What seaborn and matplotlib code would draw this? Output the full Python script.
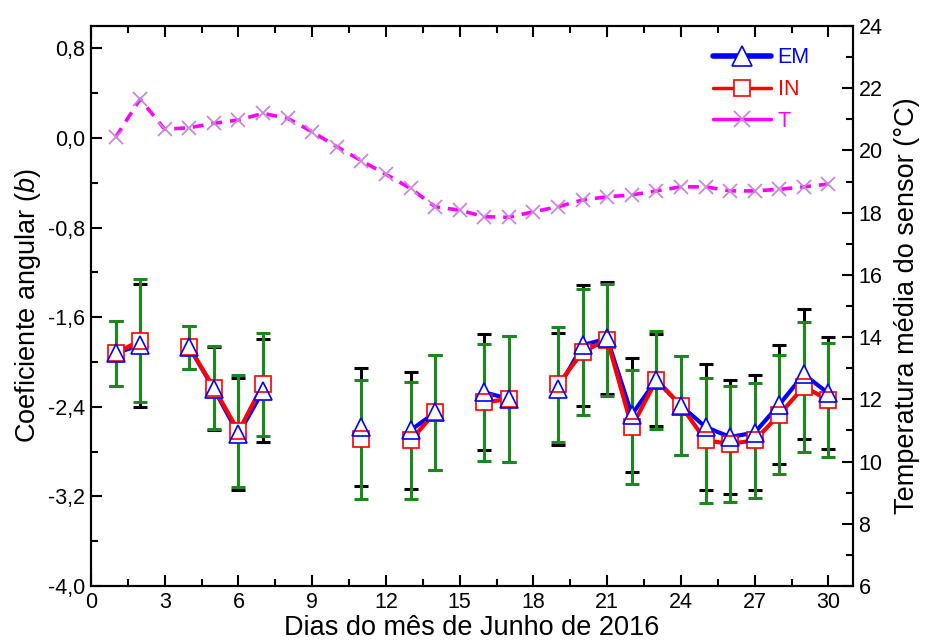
import numpy as np
import pandas as pd
import matplotlib
matplotlib.use("Agg")
import matplotlib.pyplot as plt
import seaborn as sns
from matplotlib.lines import Line2D
from matplotlib.ticker import MultipleLocator, FuncFormatter

# ---------------- data ----------------
days = [1, 2, 4, 5, 6, 7, 11, 13, 14, 16, 17, 19, 20, 21, 22, 23, 24, 25, 26, 27, 28, 29, 30]
em_b = [-1.92, -1.85, -1.87, -2.24, -2.645, -2.255, -2.58, -2.61, -2.45, -2.27, -2.33, -2.24,
        -1.85, -1.79, -2.47, -2.16, -2.39, -2.58, -2.67, -2.63, -2.38, -2.11, -2.28]
em_err = [0.29, 0.55, 0.19, 0.37, 0.50, 0.46, 0.53, 0.52, 0.51, 0.52, 0.56, 0.50,
          0.54, 0.50, 0.51, 0.41, 0.44, 0.56, 0.51, 0.51, 0.53, 0.58, 0.50]
in_b = [-1.92, -1.81, -1.87, -2.23, -2.62, -2.20, -2.69, -2.70, -2.45, -2.36, -2.33, -2.20,
        -1.91, -1.80, -2.58, -2.16, -2.39, -2.70, -2.73, -2.70, -2.47, -2.22, -2.34]
in_err = [0.29, 0.55, 0.19, 0.37, 0.50, 0.46, 0.53, 0.52, 0.51, 0.52, 0.56, 0.51,
          0.565, 0.50, 0.51, 0.44, 0.44, 0.56, 0.52, 0.51, 0.53, 0.58, 0.51]
t_days = list(range(1, 31))
t_temp = [20.42, 21.65, 20.68, 20.73, 20.87, 20.98, 21.19, 21.03, 20.60, 20.12,
          19.67, 19.23, 18.78, 18.19, 18.08, 17.87, 17.85, 18.03, 18.19, 18.41,
          18.51, 18.57, 18.70, 18.83, 18.83, 18.70, 18.70, 18.75, 18.83, 18.92]

series_labels = ["EM", "IN", "T"]
x_label = "Dias do mês de Junho de 2016"
y_label = "Coeficiente angular ($\\it{b}$)"
y2_label = "Temperatura média do sensor (°C)"

# ---------------- style ----------------
sns.set_theme(style="ticks")
plt.rcParams["font.family"] = ["Liberation Sans", "DejaVu Sans"]
plt.rcParams["mathtext.fontset"] = "custom"
plt.rcParams["mathtext.rm"] = "Liberation Sans"
plt.rcParams["mathtext.it"] = "Liberation Sans:italic"
plt.rcParams["axes.linewidth"] = 1.5
plt.rcParams["axes.edgecolor"] = "black"
plt.rcParams["axes.labelcolor"] = "black"
plt.rcParams["text.color"] = "black"
plt.rcParams["xtick.color"] = "black"
plt.rcParams["ytick.color"] = "black"
plt.rcParams["xtick.labelcolor"] = "black"
plt.rcParams["ytick.labelcolor"] = "black"

BLUE = "#0000FF"
RED = "#FF0000"
MAG = "#FF00FF"
XCOL = "#C987DA"
GREEN = "#1E861E"

df = pd.DataFrame({"dia": days, "EM": em_b, "EM_err": em_err, "IN": in_b, "IN_err": in_err})
df["seg"] = np.cumsum(np.diff(np.array(days), prepend=days[0] - 1) != 1)
dft = pd.DataFrame({"dia": t_days, "T": t_temp})

fig = plt.figure(figsize=(9.37, 6.43), dpi=100)
ax = fig.add_axes([0.0971, 0.0886, 0.8133, 0.871])

# lines (broken where days are missing)
sns.lineplot(data=df, x="dia", y="EM", units="seg", estimator=None, color=BLUE,
             lw=3.0, ax=ax, zorder=2, legend=False)
sns.lineplot(data=df, x="dia", y="IN", units="seg", estimator=None, color=RED,
             lw=3.0, ax=ax, zorder=3, legend=False)

# error bars
ax.errorbar(df["dia"], df["EM"], yerr=df["EM_err"], fmt="none", ecolor="black",
            elinewidth=2.2, capsize=5, capthick=2.2, zorder=4)
ax.errorbar(df["dia"], df["IN"], yerr=df["IN_err"], fmt="none", ecolor=GREEN,
            elinewidth=2.2, capsize=5, capthick=2.2, zorder=5)

# markers
ax.plot(df["dia"], df["EM"], ls="none", marker="^", ms=13, mfc="white", mec="none", zorder=6)
ax.plot(df["dia"], df["IN"], ls="none", marker="s", ms=11, mfc="white", mec=RED, mew=1.2, zorder=7)
ax.plot(df["dia"], df["EM"], ls="none", marker="^", ms=13, mfc="none", mec=BLUE, mew=1.2, zorder=8)

ax.set_xlim(0, 31)
ax.set_ylim(-4.0, 1.0)
ax.set_yticks(np.arange(-4.0, 0.81, 0.8))
ax.yaxis.set_minor_locator(MultipleLocator(0.4))
ax.yaxis.set_major_formatter(FuncFormatter(lambda v, p: f"{round(v, 1) + 0.0:.1f}".replace(".", ",")))
ax.set_xticks(np.arange(0, 31, 3))
ax.xaxis.set_minor_locator(MultipleLocator(1.5))
ax.tick_params(which="both", direction="in", top=True, right=False, width=1.5, labelsize=15.5, pad=4)
ax.tick_params(which="major", length=8)
ax.tick_params(which="minor", length=5)
ax.set_xlabel(x_label, fontsize=19.5, labelpad=2)
ax.set_ylabel(y_label, fontsize=19.5, labelpad=4)

# temperature on right axis
ax2 = ax.twinx()
sns.lineplot(data=dft, x="dia", y="T", color=MAG, lw=2.6, linestyle=(0, (3, 2.2)),
             marker="x", ms=10, mec=XCOL, mew=1.3, ax=ax2, legend=False)
ax2.set_ylim(6, 24)
ax2.set_yticks(np.arange(6, 25, 2))
ax2.yaxis.set_minor_locator(MultipleLocator(1))
ax2.tick_params(which="both", direction="in", right=True, width=1.5, labelsize=15.5, pad=4)
ax2.tick_params(which="major", length=8)
ax2.tick_params(which="minor", length=5)
ax2.set_ylabel(y2_label, fontsize=19.5, labelpad=8)
ax2.set_xlim(0, 31)

handles = [
    Line2D([], [], color=BLUE, lw=4, marker="^", ms=14, mfc="white", mec=BLUE, mew=1.2),
    Line2D([], [], color=RED, lw=2.5, marker="s", ms=12, mfc="white", mec=RED, mew=1.2),
    Line2D([], [], color=MAG, lw=2.5, marker="x", ms=11, mec=XCOL, mew=1.3),
]
leg = ax2.legend(handles, series_labels, loc="upper right", bbox_to_anchor=(0.96, 0.985),
                 frameon=False, fontsize=15.5, handlelength=2.7, handletextpad=0.3,
                 labelspacing=0.5, borderaxespad=0.2)
for txt, c in zip(leg.get_texts(), [BLUE, RED, MAG]):
    txt.set_color(c)

fig.savefig("out.png", dpi=100)
